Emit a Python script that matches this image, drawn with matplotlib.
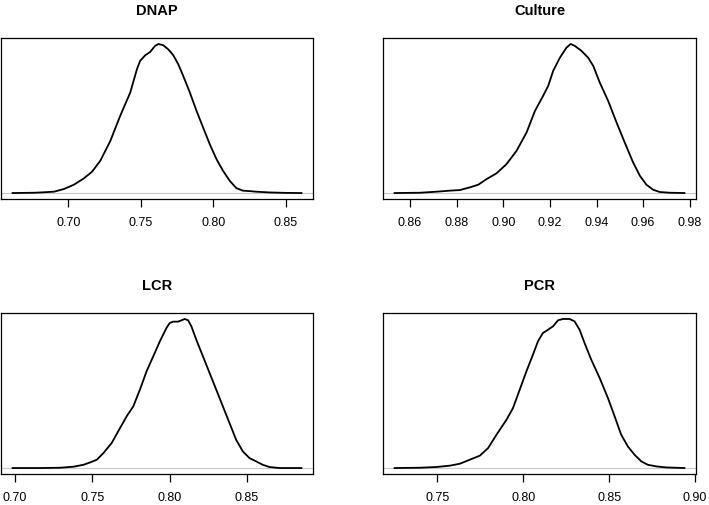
import numpy as np
import matplotlib.pyplot as plt

plt.rcParams['font.family'] = ['Liberation Sans', 'DejaVu Sans']

# posterior densities (height relative to the peak)
dnap_x = [0.6616, 0.6765, 0.6810, 0.6902, 0.6970, 0.7039, 0.7107, 0.7164, 0.7221,
          0.7290, 0.7358, 0.7427, 0.7473, 0.7495, 0.7530, 0.7564, 0.7598, 0.7621,
          0.7655, 0.7689, 0.7724, 0.7758, 0.7792, 0.7838, 0.7884, 0.7929, 0.7975,
          0.8021, 0.8066, 0.8112, 0.8158, 0.8203, 0.8249, 0.8295, 0.8386, 0.8500,
          0.8607]
dnap_y = [0.000, 0.002, 0.004, 0.009, 0.027, 0.056, 0.098, 0.143, 0.217,
          0.350, 0.518, 0.674, 0.830, 0.886, 0.924, 0.946, 0.987, 1.000,
          0.991, 0.964, 0.924, 0.864, 0.786, 0.674, 0.551, 0.440, 0.328,
          0.228, 0.150, 0.083, 0.033, 0.016, 0.013, 0.009, 0.004, 0.001,
          0.000]

culture_x = [0.8534, 0.8643, 0.8714, 0.8771, 0.8814, 0.8857, 0.8893, 0.8929, 0.8971,
             0.9014, 0.9057, 0.9100, 0.9136, 0.9171, 0.9193, 0.9214, 0.9243, 0.9271,
             0.9289, 0.9307, 0.9336, 0.9364, 0.9386, 0.9414, 0.9450, 0.9486, 0.9521,
             0.9557, 0.9586, 0.9614, 0.9643, 0.9671, 0.9714, 0.9777]
culture_y = [0.000, 0.002, 0.009, 0.016, 0.020, 0.038, 0.056, 0.094, 0.132,
             0.194, 0.283, 0.406, 0.551, 0.652, 0.719, 0.819, 0.908, 0.975,
             1.000, 0.987, 0.953, 0.908, 0.853, 0.741, 0.618, 0.473, 0.339,
             0.205, 0.116, 0.056, 0.022, 0.007, 0.002, 0.000]

lcr_x = [0.6983, 0.7163, 0.7292, 0.7378, 0.7443, 0.7486, 0.7529, 0.7572, 0.7625,
         0.7679, 0.7722, 0.7765, 0.7808, 0.7851, 0.7894, 0.7937, 0.7980, 0.8001,
         0.8023, 0.8055, 0.8077, 0.8098, 0.8120, 0.8141, 0.8173, 0.8216, 0.8259,
         0.8302, 0.8345, 0.8388, 0.8431, 0.8474, 0.8517, 0.8560, 0.8603, 0.8646,
         0.8710, 0.8854]
lcr_y = [0.000, 0.000, 0.002, 0.009, 0.022, 0.038, 0.056, 0.101, 0.168,
         0.268, 0.347, 0.414, 0.526, 0.649, 0.749, 0.850, 0.940, 0.973,
         0.982, 0.982, 0.991, 1.000, 0.991, 0.951, 0.861, 0.749, 0.638,
         0.526, 0.414, 0.302, 0.190, 0.112, 0.067, 0.045, 0.022, 0.007,
         0.000, 0.000]

pcr_x = [0.7252, 0.7399, 0.7496, 0.7574, 0.7632, 0.7690, 0.7748, 0.7796, 0.7845,
         0.7903, 0.7941, 0.7980, 0.8019, 0.8057, 0.8086, 0.8115, 0.8145, 0.8174,
         0.8203, 0.8232, 0.8270, 0.8299, 0.8328, 0.8357, 0.8396, 0.8445, 0.8493,
         0.8532, 0.8570, 0.8609, 0.8648, 0.8687, 0.8725, 0.8774, 0.8832, 0.8938]
pcr_y = [0.000, 0.002, 0.007, 0.016, 0.029, 0.056, 0.083, 0.134, 0.224,
         0.324, 0.403, 0.526, 0.649, 0.761, 0.850, 0.906, 0.928, 0.951,
         0.991, 1.000, 1.000, 0.984, 0.928, 0.839, 0.727, 0.604, 0.470,
         0.347, 0.224, 0.145, 0.089, 0.045, 0.022, 0.011, 0.004, 0.000]

titles = ['DNAP', 'Culture', 'LCR', 'PCR']
ticks = [[0.70, 0.75, 0.80, 0.85],
         [0.86, 0.88, 0.90, 0.92, 0.94, 0.96, 0.98],
         [0.70, 0.75, 0.80, 0.85],
         [0.75, 0.80, 0.85, 0.90]]
curves = [(dnap_x, dnap_y), (culture_x, culture_y), (lcr_x, lcr_y), (pcr_x, pcr_y)]

W, H = 709, 506
fig = plt.figure(figsize=(W / 100, H / 100), dpi=100)
# axes boxes in pixels: left, top, right, bottom
boxes = [(1, 39, 313, 200), (383, 39, 696, 200),
         (1, 314, 313, 475), (383, 314, 696, 475)]

for (x, y), title, tk, (l, t, r, b) in zip(curves, titles, ticks, boxes):
    ax = fig.add_axes((l / W, 1 - b / H, (r - l) / W, (b - t) / H))
    ax.axhline(0, color='#c8c8c8', lw=0.8, zorder=1)
    ax.plot(x, y, color='black', lw=1.3, zorder=2)
    # R style 4% padding on both axes
    pad = (max(x) - min(x)) * 0.04
    ax.set_xlim(min(x) - pad, max(x) + pad)
    ax.set_ylim(-0.04, 1.04)
    ax.set_xticks(tk)
    ax.set_xticklabels(['%.2f' % v for v in tk])
    ax.set_yticks([])
    ax.tick_params(axis='x', length=6, width=0.9, pad=6, labelsize=9)
    for s in ax.spines.values():
        s.set_linewidth(0.9)
    ax.set_title(title, fontsize=10.5, fontweight='bold', pad=17)

fig.savefig('out.png', dpi=100)
